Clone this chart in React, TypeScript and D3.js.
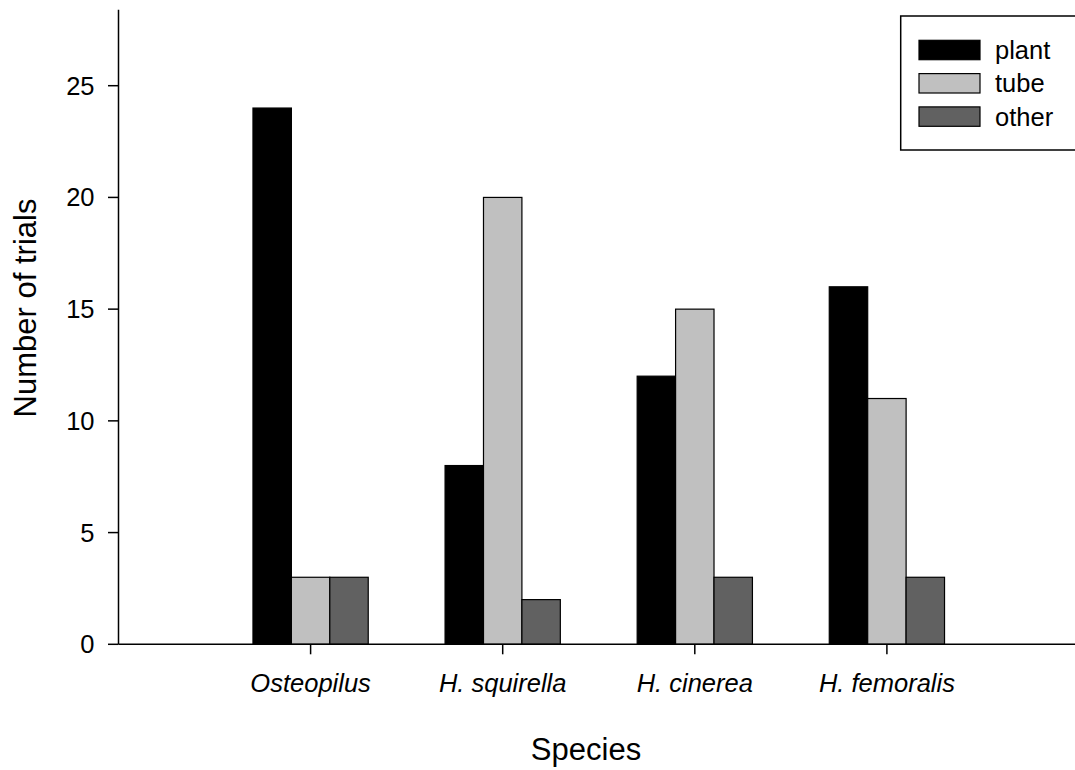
import React from "react";
import * as d3 from "d3";

// Trial outcomes per species
const species = ["Osteopilus", "H. squirella", "H. cinerea", "H. femoralis"];
const seriesNames = ["plant", "tube", "other"];
const plantValues = [24, 8, 12, 16];
const tubeValues = [3, 20, 15, 11];
const otherValues = [3, 2, 3, 3];
const yTicks = [0, 5, 10, 15, 20, 25];

const seriesColors = ["#000000", "#c0c0c0", "#616161"];
const seriesValues = [plantValues, tubeValues, otherValues];

const W = 1075;
const H = 770;
const FONT = "'Liberation Sans', Arial, sans-serif";

export default function App() {
  // positions 1..4 on a 0..5 linear axis
  const x = d3.scaleLinear().domain([0, 5]).range([118.5, 1079]);
  const y = d3.scaleLinear().domain([0, 25]).range([644.3, 85.7]);
  const yTop = y(28.4);
  const barW = 0.2;

  return (
    <svg
      width={W}
      height={H}
      style={{ position: "fixed", left: 0, top: 0, background: "#fff" }}
      fontFamily={FONT}
    >
      {/* bars */}
      {species.map((sp, i) => {
        const pos = i + 1;
        return (
          <g key={sp}>
            {seriesValues.map((vals, s) => {
              const x0 = x(pos - 1.5 * barW + s * barW);
              const x1 = x(pos - 1.5 * barW + (s + 1) * barW);
              return (
                <rect
                  key={s}
                  x={x0}
                  y={y(vals[i])}
                  width={x1 - x0}
                  height={y(0) - y(vals[i])}
                  fill={seriesColors[s]}
                  stroke="#000"
                  strokeWidth={1.2}
                />
              );
            })}
          </g>
        );
      })}

      {/* y axis */}
      <line x1={x(0)} x2={x(0)} y1={yTop} y2={y(0)} stroke="#000" strokeWidth={1.5} />
      {yTicks.map((t) => (
        <g key={t}>
          <line x1={x(0) - 10.5} x2={x(0)} y1={y(t)} y2={y(t)} stroke="#000" strokeWidth={1.5} />
          <text
            x={x(0) - 24}
            y={y(t)}
            textAnchor="end"
            dominantBaseline="central"
            fontSize={25.5}
          >
            {t}
          </text>
        </g>
      ))}

      {/* x axis */}
      <line x1={x(0)} x2={x(5)} y1={y(0)} y2={y(0)} stroke="#000" strokeWidth={1.5} />
      {species.map((sp, i) => (
        <g key={sp}>
          <line
            x1={x(i + 1)}
            x2={x(i + 1)}
            y1={y(0)}
            y2={y(0) + 10}
            stroke="#000"
            strokeWidth={1.5}
          />
          <text x={x(i + 1)} y={692} textAnchor="middle" fontSize={25.5} fontStyle="italic">
            {sp}
          </text>
        </g>
      ))}

      {/* axis titles */}
      <text x={586} y={760} textAnchor="middle" fontSize={31}>
        Species
      </text>
      <text
        transform="translate(36,308) rotate(-90)"
        textAnchor="middle"
        fontSize={31}
      >
        Number of trials
      </text>

      {/* legend */}
      <rect x={900.7} y={16} width={200} height={134} fill="#fff" stroke="#000" strokeWidth={1.5} />
      {seriesNames.map((name, s) => {
        const cy = 50 + s * 33.3;
        return (
          <g key={name}>
            <rect
              x={919}
              y={cy - 9.7}
              width={61}
              height={19.4}
              fill={seriesColors[s]}
              stroke="#000"
              strokeWidth={1.2}
            />
            <text x={995} y={cy} dominantBaseline="central" fontSize={25.5}>
              {name}
            </text>
          </g>
        );
      })}
    </svg>
  );
}
